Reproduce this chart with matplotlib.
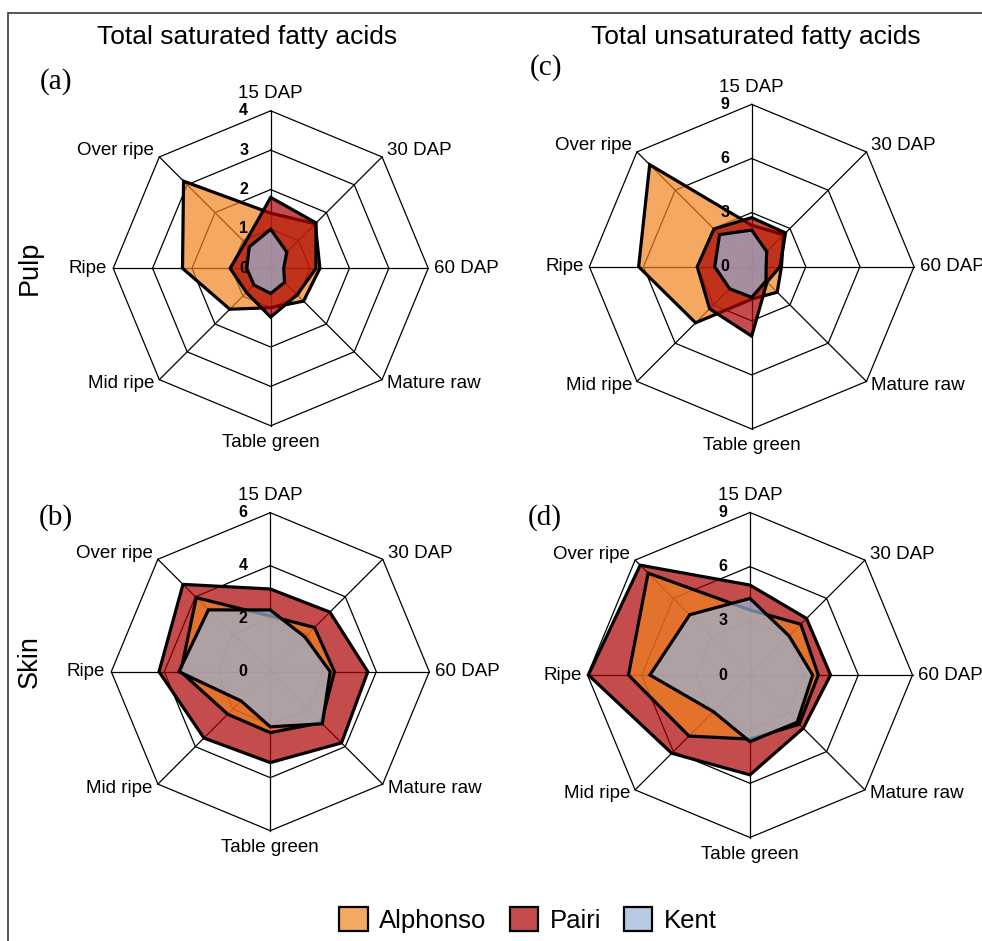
import numpy as np
import matplotlib
matplotlib.use("Agg")
import matplotlib.pyplot as plt
from matplotlib.patches import Polygon, Rectangle, Patch

plt.rcParams["font.family"] = ["Liberation Sans", "DejaVu Sans"]

# Ripening stages (clockwise from the top)
stages = ["15 DAP", "30 DAP", "60 DAP", "Mature raw",
          "Table green", "Mid ripe", "Ripe", "Over ripe"]
cultivars = ["Alphonso", "Pairi", "Kent"]

# (a) total saturated fatty acids, pulp
sfa_pulp_alphonso = [1.40, 1.60, 1.25, 1.18, 1.00, 1.47, 2.24, 3.13]
sfa_pulp_pairi = [1.80, 1.63, 1.15, 0.95, 1.24, 0.87, 1.03, 0.92]
sfa_pulp_kent = [0.99, 0.58, 0.33, 0.50, 0.64, 0.60, 0.61, 0.77]
# (b) total saturated fatty acids, skin
sfa_skin_alphonso = [2.10, 2.36, 2.42, 2.72, 2.30, 2.27, 3.38, 3.95]
sfa_skin_pairi = [3.12, 3.18, 3.68, 3.80, 3.43, 3.54, 4.20, 4.66]
sfa_skin_kent = [2.33, 1.85, 2.26, 2.78, 2.08, 1.56, 3.45, 3.30]
# (c) total unsaturated fatty acids, pulp
ufa_pulp_alphonso = [2.30, 2.50, 1.65, 2.00, 1.80, 4.40, 6.27, 8.00]
ufa_pulp_pairi = [2.72, 2.65, 1.57, 1.20, 3.85, 3.30, 3.02, 2.96]
ufa_pulp_kent = [2.03, 1.18, 0.80, 1.12, 1.70, 1.73, 2.05, 2.52]
# (d) total unsaturated fatty acids, skin
ufa_skin_alphonso = [3.60, 3.98, 3.78, 3.86, 3.55, 4.78, 6.73, 7.98]
ufa_skin_pairi = [4.98, 4.43, 4.46, 4.17, 5.53, 6.13, 8.95, 8.60]
ufa_skin_kent = [4.24, 3.06, 3.47, 3.70, 3.69, 2.87, 5.54, 4.72]

# axis maxima and ring steps
sfa_pulp_max, sfa_pulp_step = 4, 1
sfa_skin_max, sfa_skin_step = 6, 2
ufa_max, ufa_step = 9, 3

FILL_ALPHA = 0.7
colors = {
    "Alphonso": (241 / 255, 131 / 255, 31 / 255),
    "Pairi": (171 / 255, 0.0, 0.0),
    "Kent": (154 / 255, 182 / 255, 215 / 255),
}

W, H = 982, 941
fig = plt.figure(figsize=(W / 100, H / 100), dpi=100)

PT = 72 / 100  # points per pixel


def radar(cx, cy, R, vmax, step, series, order):
    half = 1.45
    ax = fig.add_axes([(cx - half * R) / W, (H - cy - half * R) / H,
                       2 * half * R / W, 2 * half * R / H])
    ax.set_xlim(-half, half)
    ax.set_ylim(-half, half)
    ax.axis("off")

    theta = np.deg2rad(90 - 45 * np.arange(len(stages)))
    ux, uy = np.cos(theta), np.sin(theta)

    # octagonal grid rings and spokes
    levels = np.arange(step, vmax + step / 2, step)
    for lv in levels:
        r = lv / vmax
        ax.plot(np.append(ux, ux[0]) * r, np.append(uy, uy[0]) * r,
                color="black", lw=0.9, zorder=1, solid_joinstyle="miter")
    for x, y in zip(ux, uy):
        ax.plot([0, x], [0, y], color="black", lw=0.9, zorder=1)

    # cultivar polygons
    for name in order:
        v = np.asarray(series[name], dtype=float) / vmax
        ax.add_patch(Polygon(np.column_stack([v * ux, v * uy]), closed=True,
                             facecolor=(*colors[name], FILL_ALPHA),
                             edgecolor="black", lw=2.3, joinstyle="miter",
                             zorder=2))

    # radial value labels
    for lv in np.concatenate([[0], levels]):
        ax.text(-27 / R, lv / vmax, f"{lv:g}", ha="center", va="center",
                fontsize=11.5, fontweight="bold", zorder=5)

    # stage labels around the outer ring
    for lab, x, y in zip(stages, ux, uy):
        if abs(x) < 0.1:
            off, ha = (0, 17 * np.sign(y)), "center"
        elif abs(y) < 0.1:
            off, ha = (6 * np.sign(x), 0), ("left" if x > 0 else "right")
        else:
            off = (5 * np.sign(x), 6 if y > 0 else -4)
            ha = "left" if x > 0 else "right"
        ax.annotate(lab, (x, y), xytext=(off[0] * PT, off[1] * PT),
                    textcoords="offset points", ha=ha, va="center",
                    fontsize=13.5, annotation_clip=False, zorder=5)
    return ax


radar(270.7, 268.3, 157.5, sfa_pulp_max, sfa_pulp_step,
      {"Alphonso": sfa_pulp_alphonso, "Pairi": sfa_pulp_pairi, "Kent": sfa_pulp_kent},
      ["Alphonso", "Pairi", "Kent"])
radar(270.3, 671.7, 159, sfa_skin_max, sfa_skin_step,
      {"Alphonso": sfa_skin_alphonso, "Pairi": sfa_skin_pairi, "Kent": sfa_skin_kent},
      ["Pairi", "Alphonso", "Kent"])
radar(751.7, 266.7, 162.3, ufa_max, ufa_step,
      {"Alphonso": ufa_pulp_alphonso, "Pairi": ufa_pulp_pairi, "Kent": ufa_pulp_kent},
      ["Alphonso", "Pairi", "Kent"])
radar(750.0, 675.0, 162.5, ufa_max, ufa_step,
      {"Alphonso": ufa_skin_alphonso, "Pairi": ufa_skin_pairi, "Kent": ufa_skin_kent},
      ["Pairi", "Alphonso", "Kent"])

# column headings, row headings and panel letters
fig.text(247 / W, 1 - 37 / H, "Total saturated fatty acids",
         ha="center", va="center", fontsize=19)
fig.text(756 / W, 1 - 37 / H, "Total unsaturated fatty acids",
         ha="center", va="center", fontsize=19)
fig.text(30 / W, 1 - 268 / H, "Pulp", rotation=90, ha="center", va="center",
         fontsize=19.5)
fig.text(30 / W, 1 - 662 / H, "Skin", rotation=90, ha="center", va="center",
         fontsize=19.5)
for letter, (px, py) in {"(a)": (56, 82), "(b)": (56, 518),
                         "(c)": (546, 68), "(d)": (545, 518)}.items():
    fig.text(px / W, 1 - py / H, letter, ha="center", va="center",
             fontsize=21, family="Liberation Serif")

# outer frame
fig.add_artist(Rectangle((8 / W, -10 / H), (W + 10) / W, (H - 3) / H,
                         transform=fig.transFigure, fill=False,
                         edgecolor="#3a3a3a", lw=1.2, clip_on=False))

handles = [Patch(facecolor=(*colors[c], FILL_ALPHA), edgecolor="black",
                 lw=1.6, label=c) for c in cultivars]
fig.legend(handles=handles, loc="center", bbox_to_anchor=(528 / W, 1 - 920 / H),
           ncol=3, frameon=False, fontsize=18.5, handlelength=1.1,
           handleheight=1.05, handletextpad=0.45, columnspacing=0.9)

fig.savefig("out.png", dpi=100)
